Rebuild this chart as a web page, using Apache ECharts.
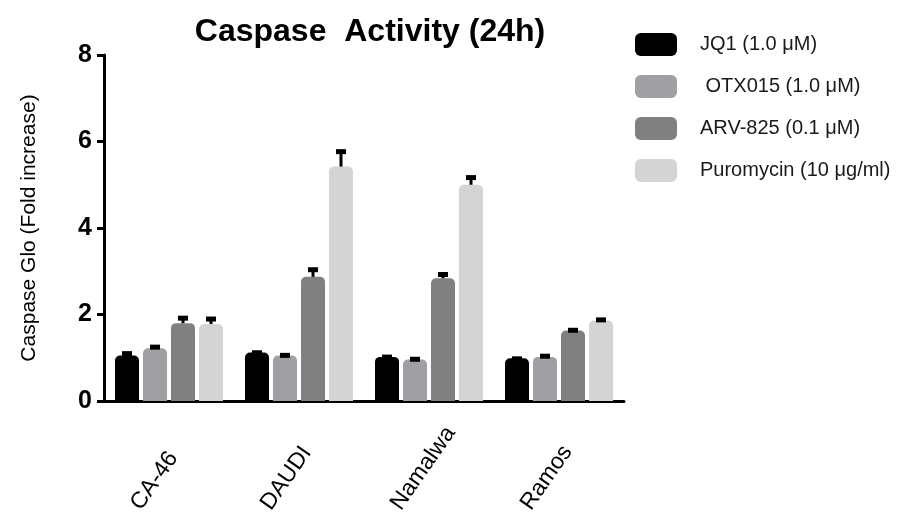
<!DOCTYPE html>
<html>
<head>
<meta charset="utf-8">
<script src="https://cdn.jsdelivr.net/npm/echarts@6/dist/echarts.min.js"></script>
<style>html,body{margin:0;padding:0;background:#fff;}#c{width:909px;height:515px;}</style>
</head>
<body>
<div id="c"></div>
<script>
var categories = ['CA-46', 'DAUDI', 'Namalwa', 'Ramos'];
var seriesNames = ['JQ1 (1.0 \u03bcM)', ' OTX015 (1.0 \u03bcM)', 'ARV-825 (0.1 \u03bcM)', 'Puromycin (10 \u03bcg/ml)'];
var jq1 = [1.05, 1.12, 1.02, 0.99];
var jq1Err = [0.08, 0.03, 0.03, 0.02];
var otx = [1.22, 1.05, 0.96, 1.02];
var otxErr = [0.06, 0.04, 0.04, 0.05];
var arv = [1.80, 2.87, 2.84, 1.63];
var arvErr = [0.15, 0.20, 0.12, 0.04];
var puro = [1.78, 5.42, 5.00, 1.86];
var puroErr = [0.15, 0.38, 0.20, 0.05];
var yTicks = [0, 2, 4, 6, 8];

var values = [jq1, otx, arv, puro];
var errors = [jq1Err, otxErr, arvErr, puroErr];
var colors = ['#000000', '#a0a0a4', '#808080', '#d4d4d4'];
var BAR_W = 24, BAR_GAP = 4;

var chart = echarts.init(document.getElementById('c'), null, {renderer: 'canvas'});
var series = [];
values.forEach(function (vals, s) {
  series.push({
    name: seriesNames[s],
    type: 'bar',
    data: vals,
    barWidth: BAR_W,
    barGap: (BAR_GAP / BAR_W * 100) + '%',
    itemStyle: {color: colors[s], borderRadius: [5, 5, 0, 0]},
    z: 2
  });
});
values.forEach(function (vals, s) {
  var data = vals.map(function (v, i) { return [i, v, v + errors[s][i]]; });
  series.push({
    type: 'custom',
    name: seriesNames[s] + ' err',
    data: data,
    z: 3,
    silent: true,
    renderItem: function (params, api) {
      var off = (s - 1.5) * (BAR_W + BAR_GAP);
      var p0 = api.coord([api.value(0), api.value(1)]);
      var p1 = api.coord([api.value(0), api.value(2)]);
      var x = p0[0] + off;
      return {
        type: 'group',
        children: [
          {type: 'line', shape: {x1: x, y1: p0[1], x2: x, y2: p1[1]}, style: {stroke: '#000', lineWidth: 3}},
          {type: 'rect', shape: {x: x - 5, y: p1[1] - 1, width: 10, height: 5}, style: {fill: '#000'}}
        ]
      };
    }
  });
});

chart.setOption({
  animation: false,
  title: {
    text: 'Caspase  Activity (24h)',
    left: 365, top: 11, textAlign: 'center',
    textStyle: {fontFamily: 'Liberation Sans', fontWeight: 'bold', fontSize: 32, color: '#000'}
  },
  legend: {
    orient: 'vertical',
    left: 630, top: 28,
    itemWidth: 42, itemHeight: 23, itemGap: 19,
    icon: 'roundRect',
    data: seriesNames,
    textStyle: {fontFamily: 'Liberation Sans', fontSize: 20, color: '#1a1a1a', padding: [0, 0, 0, 18]}
  },
  grid: {left: 104, top: 55, width: 520, height: 346, containLabel: false, outerBoundsMode: 'none'},
  xAxis: {
    type: 'category',
    data: categories,
    axisLine: {lineStyle: {color: '#000', width: 3}},
    axisTick: {alignWithLabel: true, length: 7, lineStyle: {color: '#000', width: 3}},
    axisLabel: {interval: 0, rotate: 55, align: 'left', verticalAlign: 'middle', margin: 59, padding: [0, 0, 0, -58],
      fontFamily: 'Liberation Sans', fontSize: 23, color: '#000'}
  },
  yAxis: {
    type: 'value',
    min: 0, max: 8, interval: 2,
    name: 'Caspase Glo (Fold increase)',
    nameLocation: 'middle',
    nameGap: 64,
    nameTextStyle: {fontFamily: 'Liberation Sans', fontSize: 21, color: '#000'},
    axisLine: {show: true, lineStyle: {color: '#000', width: 3}},
    axisTick: {show: true, length: 7, lineStyle: {color: '#000', width: 3}},
    axisLabel: {margin: 12, fontFamily: 'Liberation Sans', fontWeight: 'bold', fontSize: 25, color: '#000',
      formatter: function (v) { return yTicks.indexOf(v) >= 0 ? String(v) : ''; }},
    splitLine: {show: false}
  },
  series: series
});
</script>
</body>
</html>
